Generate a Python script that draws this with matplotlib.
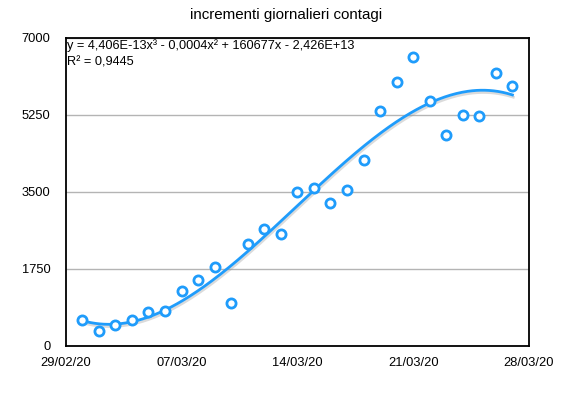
import matplotlib
matplotlib.use("Agg")
import matplotlib.pyplot as plt
import matplotlib.patheffects as pe
import numpy as np

plt.rcParams['font.family'] = ['Liberation Sans', 'DejaVu Sans']

# day offsets from 29/02/20 (1 = 01/03/20)
days = list(range(1, 28))
new_cases = [573, 335, 466, 587, 769, 778, 1247, 1492, 1797, 977,
             2313, 2651, 2547, 3497, 3590, 3233, 3526, 4207, 5322, 5986,
             6557, 5560, 4789, 5249, 5210, 6203, 5909]
xtick_pos = [0, 7, 14, 21, 28]
xtick_labels = ["29/02/20", "07/03/20", "14/03/20", "21/03/20", "28/03/20"]
ytick_vals = [0, 1750, 3500, 5250, 7000]
title = "incrementi giornalieri contagi"
eq_text = "y = 4,406E-13x³ - 0,0004x² + 160677x - 2,426E+13"
r2_text = "R² = 0,9445"

blue = '#1f9cfb'

fig = plt.figure(figsize=(5.73, 3.94), dpi=100)
ax = fig.add_axes([65.7/573, 1-345.7/394, (529-65.7)/573, (345.7-37.5)/394])

# cubic trend line fitted to the data
x = np.array(days, dtype=float)
y = np.array(new_cases, dtype=float)
coef = np.polyfit(x, y, 3)
xs = np.linspace(x.min(), x.max(), 300)
ax.plot(xs, np.polyval(coef, xs), color=blue, lw=2.0, zorder=3,
        path_effects=[pe.SimpleLineShadow(offset=(0.6, -1.6), shadow_color='#999999', alpha=0.35),
                      pe.Normal()])

ax.plot(days, new_cases, linestyle='none', marker='o', markersize=6.6,
        markerfacecolor='white', markeredgecolor=blue, markeredgewidth=2.0, zorder=4)

ax.set_xlim(0, 28)
ax.set_ylim(0, 7000)
ax.set_xticks(xtick_pos)
ax.set_xticklabels(xtick_labels)
ax.set_yticks(ytick_vals)
ax.set_yticklabels([str(v) for v in ytick_vals])
ax.tick_params(axis='both', length=0, labelsize=9.3, colors='black')
ax.tick_params(axis='x', pad=8)
ax.tick_params(axis='y', pad=11)
ax.yaxis.grid(True, color='#b4b4b4', lw=1.0)
ax.set_axisbelow(True)
for s in ax.spines.values():
    s.set_color('black')
    s.set_linewidth(1.3)

ax.text(0.003, 0.994, eq_text, transform=ax.transAxes, ha='left', va='top', fontsize=9.2)
ax.text(0.003, 0.938, r2_text, transform=ax.transAxes, ha='left', va='top', fontsize=9.2)

fig.text(0.5, 1-15/394, title, ha='center', va='center', fontsize=10.9)

fig.savefig('out.png', dpi=100)
